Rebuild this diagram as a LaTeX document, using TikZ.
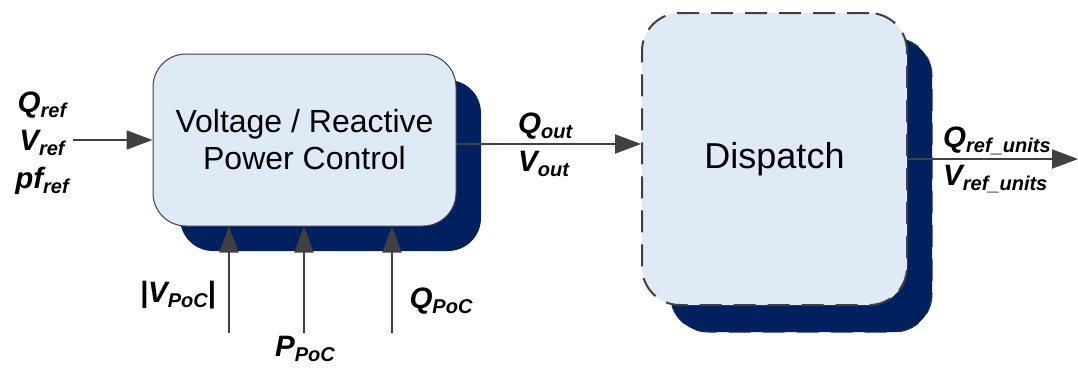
\documentclass[tikz,border=0pt]{standalone}
\usepackage{fontspec}
\setmainfont{Liberation Sans}
\usetikzlibrary{arrows.meta,calc}
\definecolor{navy}{RGB}{0,32,96}
\definecolor{boxfill}{RGB}{222,234,245}
\definecolor{edge}{RGB}{64,64,64}
\newcommand{\lbl}[2]{\textbf{\textit{#1\raisebox{-5pt}{\fontsize{20}{21}\selectfont #2}}}}
\begin{document}
\begin{tikzpicture}[x=1pt,y=-1pt,
  shadowbox/.style={rectangle,fill=navy,draw=none,inner sep=0pt},
  mainbox/.style={rectangle,fill=boxfill,draw=edge,line width=1pt,inner sep=0pt,align=center},
  arr/.style={draw=edge,line width=2pt,-{Triangle[length=26pt,width=19pt]}},
  lab/.style={inner sep=0pt,align=center,font=\fontsize{29.5}{38}\selectfont}]
\useasboundingbox (0,0) rectangle (1078,367);
% shadows
\node[shadowbox,rounded corners=33pt,minimum width=301pt,minimum height=171pt] (vpcsh) at (330.5,165.5) {};
\node[shadowbox,rounded corners=38pt,minimum width=262pt,minimum height=294pt,draw=edge!60!navy,dash pattern=on 22pt off 12pt,line width=1pt] (dispsh) at (801,185) {};
% main boxes
\node[mainbox,rounded corners=33pt,minimum width=303pt,minimum height=172pt,font=\fontsize{32}{37}\selectfont] (vpc) at (304.5,140) {Voltage / Reactive\\Power Control};
\node[mainbox,rounded corners=38pt,minimum width=265pt,minimum height=292pt,line width=2pt,dash pattern=on 22pt off 12pt,font=\fontsize{36}{40}\selectfont] (disp) at (774.5,159) {Dispatch};
% free ends
\coordinate (inL) at (73,140);
\coordinate (outR) at (1078,159);
\coordinate (b1) at (229,333);
\coordinate (b2) at (304,333);
\coordinate (b3) at (392,333);
% connectors
\draw[arr] (inL) -- (vpc.west);
\draw[arr] ([yshift=-4pt]vpc.east) -- ([yshift=-4pt]vpc.east -| disp.west);
\draw[arr] (disp.east) -- (outR);
\draw[arr] (b1) -- (b1 |- vpc.south);
\draw[arr] (b2) -- (b2 |- vpc.south);
\draw[arr] (b3) -- (b3 |- vpc.south);
% labels
\node[lab] (inlab) at (42,143) {\lbl{Q}{ref}\\\lbl{V}{ref}\\\lbl{pf}{ref}};
\node[lab,anchor=west,align=left] (outlab) at (518,145) {\lbl{Q}{out}\\\lbl{V}{out}};
\node[lab,anchor=west,align=left] (unitlab) at (943,160) {\lbl{Q}{ref\_units}\\\lbl{V}{ref\_units}};
\node[lab] (vpoc) at (178,295) {\lbl{|V}{PoC}\textbf{|}};
\node[lab] (ppoc) at (305,349) {\lbl{P}{PoC}};
\node[lab] (qpoc) at (441,301) {\lbl{Q}{PoC}};
\end{tikzpicture}
\end{document}
